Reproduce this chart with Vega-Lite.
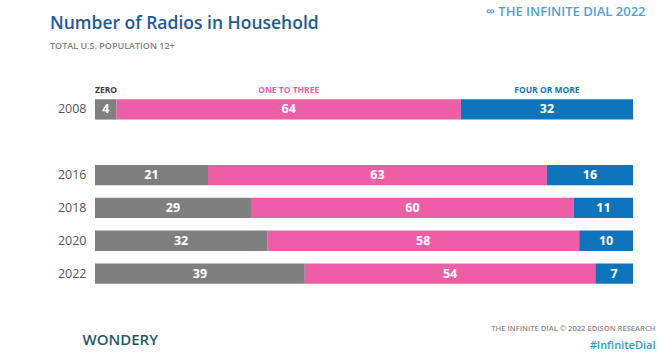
{
  "$schema": "https://vega.github.io/schema/vega-lite/v6.json",
  "width": 538,
  "height": 197,
  "autosize": {"type": "none"},
  "padding": {"left": 95, "top": 93, "right": 25, "bottom": 65},
  "background": "white",
  "config": {"view": {"stroke": null}, "font": "Open Sans"},
  "title": {
    "text": "Number of Radios in Household",
    "subtitle": "TOTAL U.S. POPULATION 12+",
    "anchor": "start",
    "frame": "group",
    "font": "Open Sans",
    "fontSize": 17.5,
    "fontWeight": 600,
    "color": "#1b5b97",
    "subtitleFont": "Open Sans",
    "subtitleFontSize": 9,
    "subtitleFontWeight": 600,
    "subtitleColor": "#808080",
    "subtitlePadding": 10,
    "dx": -45,
    "dy": 50
  },
  "data": {
    "values": [
      {"year": "2008", "category": "ZERO", "order": 1, "value": 4},
      {"year": "2008", "category": "ONE TO THREE", "order": 2, "value": 64},
      {"year": "2008", "category": "FOUR OR MORE", "order": 3, "value": 32},
      {"year": "2016", "category": "ZERO", "order": 1, "value": 21},
      {"year": "2016", "category": "ONE TO THREE", "order": 2, "value": 63},
      {"year": "2016", "category": "FOUR OR MORE", "order": 3, "value": 16},
      {"year": "2018", "category": "ZERO", "order": 1, "value": 29},
      {"year": "2018", "category": "ONE TO THREE", "order": 2, "value": 60},
      {"year": "2018", "category": "FOUR OR MORE", "order": 3, "value": 11},
      {"year": "2020", "category": "ZERO", "order": 1, "value": 32},
      {"year": "2020", "category": "ONE TO THREE", "order": 2, "value": 58},
      {"year": "2020", "category": "FOUR OR MORE", "order": 3, "value": 10},
      {"year": "2022", "category": "ZERO", "order": 1, "value": 39},
      {"year": "2022", "category": "ONE TO THREE", "order": 2, "value": 54},
      {"year": "2022", "category": "FOUR OR MORE", "order": 3, "value": 7}
    ]
  },
  "resolve": {"axis": {"x": "independent", "y": "independent"}},
  "layer": [
    {
      "transform": [
        {"stack": "value", "groupby": ["year"], "sort": [{"field": "order", "order": "ascending"}], "as": ["x0", "x1"]}
      ],
      "mark": {"type": "bar"},
      "encoding": {
        "x": {
          "field": "x0", "type": "quantitative",
          "scale": {"domain": [0, 100], "nice": false},
          "axis": {
            "labels": false, "ticks": false, "domain": false, "grid": false,
            "title": "THE INFINITE DIAL    ©  2022 EDISON RESEARCH",
            "titleFont": "Open Sans", "titleFontSize": 7.6, "titleFontWeight": 600,
            "titleColor": "#8a8a8a", "titleAnchor": "end", "titleAlign": "right",
            "titleBaseline": "middle", "titleX": 560, "titleY": 38
          }
        },
        "x2": {"field": "x1"},
        "y": {
          "field": "year", "type": "nominal",
          "scale": {"domain": ["2008", " ", "2016", "2018", "2020", "2022"], "paddingInner": 0.38, "paddingOuter": 0.19},
          "axis": {
            "ticks": false, "domain": false,
            "labelPadding": 9, "labelFont": "Open Sans", "labelFontSize": 12.5,
            "labelColor": "#555555",
            "title": "WONDERY", "titleAngle": 0,
            "titleFont": "Open Sans", "titleFontSize": 15, "titleFontWeight": 600,
            "titleColor": "#1d5c63", "titleAlign": "left", "titleBaseline": "middle",
            "titleX": -13, "titleY": 246
          }
        },
        "color": {
          "field": "category", "type": "nominal",
          "scale": {"domain": ["ZERO", "ONE TO THREE", "FOUR OR MORE"], "range": ["#7f7f7f", "#ee5ea6", "#0e74bb"]},
          "legend": null
        }
      }
    },
    {
      "transform": [
        {"stack": "value", "groupby": ["year"], "sort": [{"field": "order", "order": "ascending"}], "as": ["x0", "x1"]},
        {"fold": ["x0", "x1"], "as": ["edge", "pos"]}
      ],
      "mark": {"type": "text", "color": "white", "fontWeight": "bold", "fontSize": 12.5, "font": "Open Sans", "baseline": "middle", "align": "center"},
      "encoding": {
        "x": {
          "aggregate": "mean", "field": "pos", "type": "quantitative",
          "axis": {
            "orient": "top", "labels": false, "ticks": false, "domain": false, "grid": false,
            "title": "∞  THE INFINITE DIAL 2022",
            "titleFont": "Open Sans", "titleFontSize": 13, "titleFontWeight": 600,
            "titleColor": "#4aa3d6", "titleAlign": "right", "titleBaseline": "middle",
            "titleX": 550, "titleY": -82
          }
        },
        "y": {
          "field": "year", "type": "nominal",
          "axis": {
            "orient": "right", "labels": false, "ticks": false, "domain": false, "grid": false,
            "title": "#InfiniteDial", "titleAngle": 0,
            "titleFont": "Open Sans", "titleFontSize": 11, "titleFontWeight": 600,
            "titleColor": "#1e9fd8", "titleAlign": "right", "titleBaseline": "middle",
            "titleX": 22, "titleY": 252
          }
        },
        "detail": {"field": "category"},
        "text": {"field": "value", "type": "quantitative"}
      }
    },
    {
      "transform": [
        {"stack": "value", "groupby": ["year"], "sort": [{"field": "order", "order": "ascending"}], "as": ["x0", "x1"]},
        {"filter": "datum.year == '2008' && datum.order == 1"}
      ],
      "mark": {"type": "text", "color": "#3a3a3a", "fontWeight": "bold", "fontSize": 8.5, "font": "Open Sans", "baseline": "middle", "align": "left", "dy": -19},
      "encoding": {
        "x": {"field": "x0", "type": "quantitative", "axis": null},
        "y": {"field": "year", "type": "nominal", "axis": null},
        "text": {"field": "category"}
      }
    },
    {
      "transform": [
        {"stack": "value", "groupby": ["year"], "sort": [{"field": "order", "order": "ascending"}], "as": ["x0", "x1"]},
        {"filter": "datum.year == '2008' && datum.order > 1"},
        {"fold": ["x0", "x1"], "as": ["edge", "pos"]}
      ],
      "mark": {"type": "text", "fontWeight": "bold", "fontSize": 8.5, "font": "Open Sans", "baseline": "middle", "align": "center", "dy": -19},
      "encoding": {
        "x": {"aggregate": "mean", "field": "pos", "type": "quantitative", "axis": null},
        "y": {"field": "year", "type": "nominal", "axis": null},
        "color": {"field": "category", "type": "nominal", "legend": null},
        "text": {"field": "category"}
      }
    }
  ]
}
